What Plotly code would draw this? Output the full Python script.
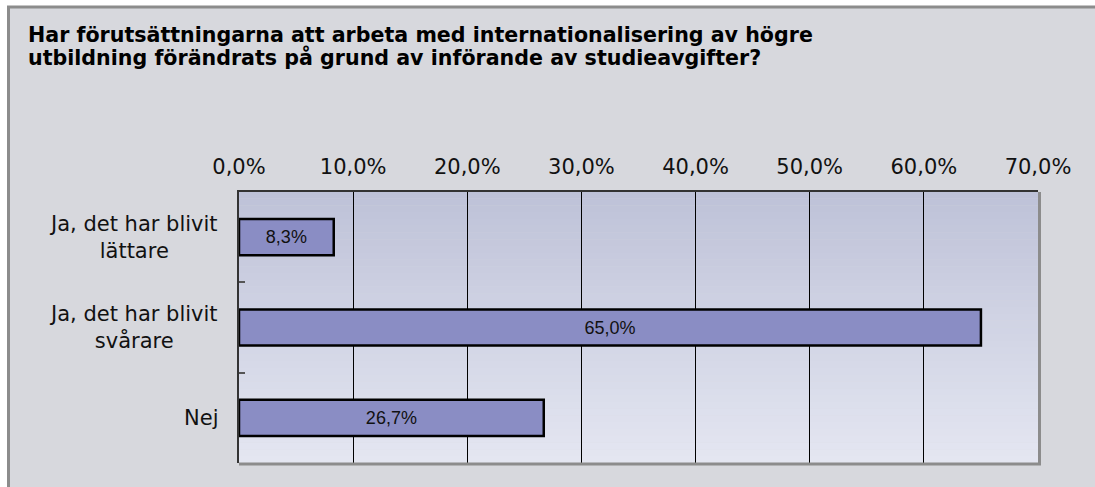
import plotly.graph_objects as go

# ---- data ----
categories = ["Ja, det har blivit<br>lättare", "Ja, det har blivit<br>svårare", "Nej"]
values = [8.3, 65.0, 26.7]
tick_values = [0, 10, 20, 30, 40, 50, 60, 70]
title_lines = [
    "Har förutsättningarna att arbeta med internationalisering av högre",
    "utbildning förändrats på grund av införande av studieavgifter?",
]

W, H = 1095, 487
L, R, T, B = 239, 1038, 192, 463  # plot area pixels


def px(x):
    return (x - L) / (R - L)


def py(y):
    return (B - y) / (B - T)


bar_text = [f"{v:.1f}%".replace(".", ",") for v in values]
tick_text = [f"{v:.1f}%".replace(".", ",") for v in tick_values]

fig = go.Figure()
fig.add_trace(go.Bar(
    x=values, y=categories, orientation="h", width=0.4,
    marker=dict(color="#8A8DC4", line=dict(color="#000000", width=2.5)),
    text=bar_text, textposition="inside", insidetextanchor="middle",
    textfont=dict(family="Liberation Sans, Arial", size=18, color="#111111"),
    constraintext="none", hoverinfo="skip",
))

shapes = []
# outer frame
shapes.append(dict(type="rect", xref="paper", yref="paper", layer="below",
                   x0=px(8.5), x1=px(1200), y0=py(7), y1=py(600),
                   fillcolor="#D7D8DD", line=dict(color="#8C8C8C", width=3)))
# gradient plot background
n = 40
c0 = (190, 194, 216)
c1 = (228, 230, 241)
for i in range(n):
    t = i / (n - 1)
    c = tuple(round(c0[k] + (c1[k] - c0[k]) * t) for k in range(3))
    shapes.append(dict(type="rect", xref="paper", yref="paper", layer="below",
                       x0=0, x1=1, y0=1 - (i + 1) / n, y1=1 - i / n + 0.001,
                       fillcolor="rgb(%d,%d,%d)" % c, line=dict(width=0)))
# right and bottom gray borders
shapes.append(dict(type="line", xref="paper", yref="paper", layer="above",
                   x0=px(1039.5), x1=px(1039.5), y0=py(463), y1=1,
                   line=dict(color="#8C8C8C", width=3)))
shapes.append(dict(type="line", xref="paper", yref="paper", layer="above",
                   x0=0, x1=px(1041), y0=py(464), y1=py(464),
                   line=dict(color="#8C8C8C", width=3)))

annotations = []
# title (one annotation per line for tight line spacing)
for i, line in enumerate(title_lines):
    annotations.append(dict(xref="paper", yref="paper", x=px(26), y=py(35 + 22 * i),
                            xanchor="left", yanchor="middle", align="left", showarrow=False,
                            text="<b>" + line + "</b>",
                            font=dict(family="DejaVu Sans", size=20.6, color="#000000")))
# category labels
for c in categories:
    annotations.append(dict(xref="paper", yref="y", x=px(220), y=c,
                            xanchor="right", yanchor="middle", align="center",
                            showarrow=False, text=c,
                            font=dict(family="DejaVu Sans", size=21, color="#111111")))

fig.update_layout(
    width=W, height=H,
    margin=dict(l=L, r=W - R, t=T, b=H - B, pad=0),
    paper_bgcolor="white", plot_bgcolor="rgba(0,0,0,0)",
    separators=", ",
    showlegend=False,
    shapes=shapes, annotations=annotations,
    xaxis=dict(range=[0, 70], side="top", tickvals=tick_values, ticktext=tick_text,
               showgrid=True, gridcolor="#000000", gridwidth=1, zeroline=False,
               showline=True, linecolor="#333333", linewidth=2,
               ticks="", ticklabelstandoff=8, fixedrange=True,
               tickfont=dict(family="DejaVu Sans", size=21, color="#111111")),
    yaxis=dict(autorange="reversed", type="category", showticklabels=False,
               showgrid=False, zeroline=False, fixedrange=True,
               showline=True, linecolor="#333333", linewidth=2,
               ticks="inside", tickson="boundaries", ticklen=6, tickcolor="#555555",
               tickwidth=1.5),
)

fig.write_html("out.html", config={"displayModeBar": False},
               post_script="document.body.style.margin='0px';")
